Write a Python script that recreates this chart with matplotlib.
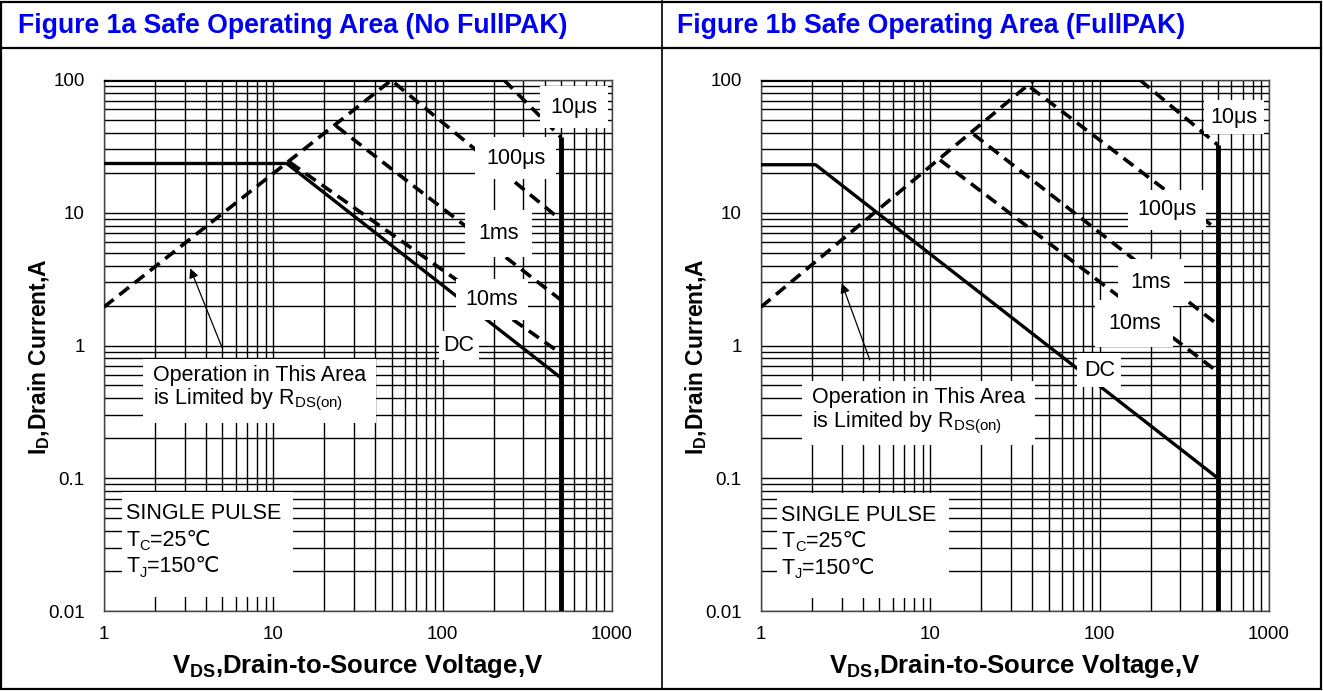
import matplotlib
matplotlib.use("Agg")
import matplotlib.pyplot as plt
from matplotlib.patches import Rectangle
from matplotlib.lines import Line2D
from matplotlib.path import Path

plt.rcParams['font.family'] = ['Liberation Sans', 'DejaVu Sans']
plt.rcParams['mathtext.fontset'] = 'custom'
plt.rcParams['mathtext.rm'] = 'Liberation Sans'
plt.rcParams['mathtext.it'] = 'Liberation Sans:italic'
plt.rcParams['mathtext.bf'] = 'Liberation Sans:bold'

W, H = 1323, 691

# ---------------- data ----------------
titles = ["Figure 1a Safe Operating Area (No FullPAK)",
          "Figure 1b Safe Operating Area (FullPAK)"]
x_ticks = [1, 10, 100, 1000]
x_ticklabels = ["1", "10", "100", "1000"]
y_ticks = [0.01, 0.1, 1, 10, 100]
y_ticklabels = ["0.01", "0.1", "1", "10", "100"]

# Panel a (No FullPAK)
a_limit_v, a_limit_i = [1, 230], [100, 100]
a_10us_v, a_10us_i = [230, 500], [100, 37]
a_vmax_v, a_vmax_i = [500, 500], [37, 0.01]
a_rds_v, a_rds_i = [1, 50], [1.95, 100]
a_dc_v, a_dc_i = [1, 12, 500], [23.5, 23.5, 0.57]
a_100us_v, a_100us_i = [52, 500], [95, 8.8]
a_1ms_v, a_1ms_i = [23.5, 500], [45, 2.2]
a_10ms_v, a_10ms_i = [12.5, 500], [24, 0.87]

# Panel b (FullPAK)
b_limit_v, b_limit_i = [1, 173], [100, 100]
b_10us_v, b_10us_i = [173, 500], [100, 32.3]
b_vmax_v, b_vmax_i = [500, 500], [32.3, 0.01]
b_rds_v, b_rds_i = [1, 41], [1.95, 100]
b_dc_v, b_dc_i = [1, 2.1, 500], [23, 23, 0.10]
b_100us_v, b_100us_i = [39, 500], [88, 7.4]
b_1ms_v, b_1ms_i = [18, 500], [39, 1.43]
b_10ms_v, b_10ms_i = [11.4, 500], [25, 0.63]

# curve labels: (text, V, I, pad)
a_labels = [("10μs", 596, 62.5, 0.5), ("100μs", 270, 25.8, 0.5),
            ("1ms", 214, 7.0, 0.6), ("10ms", 195, 2.22, 0.45),
            ("DC", 125, 1.0, 0.2)]
b_labels = [("10μs", 621, 52.6, 0.3), ("100μs", 250, 10.5, 0.45),
            ("1ms", 201, 3.0, 0.6), ("10ms", 160, 1.47, 0.6),
            ("DC", 99.5, 0.653, 0.3)]

rds_text = "Operation in This Area\nis Limited by R$_\\mathregular{DS(on)}$"
cond_head = "SINGLE PULSE"
cond_rows = [("T", "C", "=25℃"), ("T", "J", "=150℃")]

panels = [
    dict(limit=(a_limit_v, a_limit_i), us10=(a_10us_v, a_10us_i),
         vmax=(a_vmax_v, a_vmax_i), rds=(a_rds_v, a_rds_i),
         dc=(a_dc_v, a_dc_i), us100=(a_100us_v, a_100us_i),
         ms1=(a_1ms_v, a_1ms_i), ms10=(a_10ms_v, a_10ms_i),
         labels=a_labels, op_xy=(1.95, 0.47), arrow_tip=(3.23, 3.81),
         arrow_tail=(4.97, 0.97), cond_x=1.35,
         cond_base=[0.0489, 0.0311, 0.0195]),
    dict(limit=(b_limit_v, b_limit_i), us10=(b_10us_v, b_10us_i),
         vmax=(b_vmax_v, b_vmax_i), rds=(b_rds_v, b_rds_i),
         dc=(b_dc_v, b_dc_i), us100=(b_100us_v, b_100us_i),
         ms1=(b_1ms_v, b_1ms_i), ms10=(b_10ms_v, b_10ms_i),
         labels=b_labels, op_xy=(2.0, 0.32), arrow_tip=(3.0, 2.94),
         arrow_tail=(4.39, 0.78), cond_x=1.32,
         cond_base=[0.0480, 0.0304, 0.0190]),
]

FS = 15.5


class BlockBox:
    """Rectangle box style with separate paddings (in units of font size)."""

    def __init__(self, left, right, top, bottom):
        self.l, self.r, self.t, self.b = left, right, top, bottom

    def __call__(self, x0, y0, width, height, mutation_size):
        m = mutation_size
        xa, xb = x0 - self.l * m, x0 + width + self.r * m
        ya, yb = y0 - self.b * m, y0 + height + self.t * m
        return Path([(xa, ya), (xb, ya), (xb, yb), (xa, yb), (xa, ya)], closed=True)


fig = plt.figure(figsize=(W / 100, H / 100), dpi=100)
fig.patch.set_facecolor('white')

def fx(x):
    return x / W

def fy(y):
    return 1 - y / H

# table frame
fig.add_artist(Rectangle((fx(1), fy(689)), fx(1320), 687 / H, transform=fig.transFigure,
                         fill=False, ec='black', lw=1.6))
fig.add_artist(Line2D([fx(1), fx(1321)], [fy(48), fy(48)], transform=fig.transFigure,
                      color='black', lw=1.6))
fig.add_artist(Line2D([fx(662), fx(662)], [fy(1), fy(689)], transform=fig.transFigure,
                      color='black', lw=1.2))

title_x = [18, 677]
ax_left = [104, 761]
ax_top, ax_bot, ax_w = 80, 611, 508

dash_kw = dict(color='black', lw=2.6, linestyle=(0, (3.4, 2.0)), zorder=3)
solid_kw = dict(color='black', lw=2.4, solid_capstyle='butt', zorder=3)

for k, p in enumerate(panels):
    fig.text(fx(title_x[k]), fy(26), titles[k], color='#0000F0', fontsize=19.2,
             fontweight='bold', ha='left', va='center')
    ax = fig.add_axes([fx(ax_left[k]), fy(ax_bot), ax_w / W, (ax_bot - ax_top) / H])
    ax.set_xscale('log')
    ax.set_yscale('log')
    ax.set_xlim(1, 1000)
    ax.set_ylim(0.01, 100)
    ax.set_xticks(x_ticks)
    ax.set_xticklabels(x_ticklabels)
    ax.set_yticks(y_ticks)
    ax.set_yticklabels(y_ticklabels)
    ax.tick_params(which='both', length=0)
    ax.tick_params(axis='x', pad=11, labelsize=13.5)
    ax.tick_params(axis='y', pad=14, labelsize=13.5)
    ax.grid(True, which='both', color='black', lw=1.0, zorder=1)
    ax.set_axisbelow(True)
    for s in ax.spines.values():
        s.set_color('#444444')
        s.set_linewidth(1.0)

    ax.set_xlabel(r"$\mathbf{V}_\mathbf{DS}$,Drain-to-Source Voltage,V",
                  fontsize=18.5, fontweight='bold')
    ax.xaxis.set_label_coords(0.5, -0.077)
    ax.set_ylabel(r"$\mathbf{I}_\mathbf{D}$,Drain Current,A", fontsize=16.5,
                  fontweight='bold')
    ax.yaxis.set_label_coords(-0.102, 0.48)

    ax.plot(*p['limit'], lw=3.0, color='black', solid_capstyle='butt', zorder=3)
    ax.plot(*p['us10'], **dash_kw)
    ax.plot(*p['vmax'], lw=3.5, color='black', solid_capstyle='butt', zorder=3)
    ax.plot(*p['rds'], **dash_kw)
    ax.plot(*p['dc'], **solid_kw)
    ax.plot(*p['us100'], **dash_kw)
    ax.plot(*p['ms1'], **dash_kw)
    ax.plot(*p['ms10'], **dash_kw)

    for txt, v, i, pad in p['labels']:
        ax.text(v, i, txt, fontsize=FS, ha='center', va='center', zorder=5,
                bbox=dict(boxstyle=f'square,pad={pad}', fc='white', ec='none'))

    ax.text(*p['op_xy'], rds_text, fontsize=FS, ha='left', va='center', zorder=5,
            linespacing=1.1,
            bbox=dict(boxstyle='square,pad=0.45', fc='white', ec='none'))

    # test-condition block; the head line carries the white box for all rows
    ax.text(p['cond_x'], p['cond_base'][0], cond_head, fontsize=FS, ha='left',
            va='baseline', zorder=6,
            bbox=dict(boxstyle=BlockBox(0.2, 0.55, 0.55, 3.35), fc='white',
                      ec='none'))
    for (main, sub, rest), yb in zip(cond_rows, p['cond_base'][1:]):
        t1 = ax.text(p['cond_x'], yb, main, fontsize=FS, ha='left', va='baseline',
                     zorder=7)
        t2 = ax.annotate(sub, xy=(1, 0), xycoords=t1, xytext=(0.2, -1.8),
                         textcoords='offset points', fontsize=FS * 0.68,
                         ha='left', va='bottom', zorder=7)
        ax.annotate(rest, xy=(1, 0), xycoords=(t2, t1), xytext=(0.3, 0),
                    textcoords='offset points', fontsize=FS, ha='left',
                    va='bottom', zorder=7)

    ax.annotate('', xy=p['arrow_tip'], xytext=p['arrow_tail'], zorder=4,
                arrowprops=dict(arrowstyle='-|>', color='black', lw=0.9,
                                mutation_scale=14, shrinkA=0, shrinkB=0))

fig.savefig('out.png', dpi=100, facecolor='white')
